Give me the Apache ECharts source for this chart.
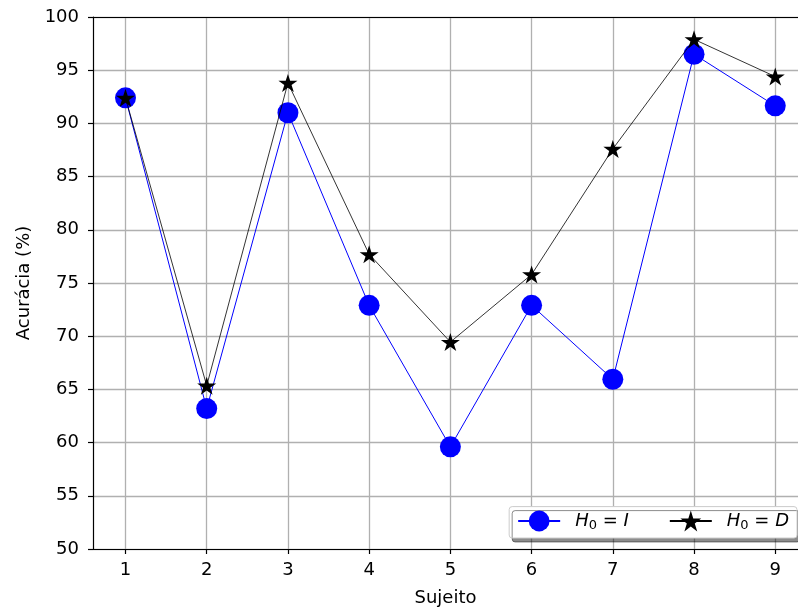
<!DOCTYPE html>
<html><head><meta charset="utf-8">
<script src="https://cdn.jsdelivr.net/npm/echarts@6/dist/echarts.min.js"></script>
<style>html,body{margin:0;padding:0;background:#fff}#c{width:798px;height:616px}</style>
</head><body><div id="c"></div>
<script>
var subjects = [1, 2, 3, 4, 5, 6, 7, 8, 9];
var accI = [92.4, 63.2, 91.0, 72.9, 59.6, 72.9, 65.95, 96.5, 91.65];
var accD = [92.4, 65.35, 93.8, 77.7, 69.45, 75.8, 87.6, 97.9, 94.4];
var yTicks = [50, 55, 60, 65, 70, 75, 80, 85, 90, 95, 100];

var star = 'path://M0,-100 L22.45,-30.9 L95.1,-30.9 L36.3,11.8 L58.8,80.9 L0,38.2 L-58.8,80.9 L-36.3,11.8 L-95.1,-30.9 L-22.45,-30.9 Z';
var font = 'DejaVu Sans';
var fs = 18;
var chart = echarts.init(document.getElementById('c'), null, {renderer: 'canvas'});
var rich = {
  i: {fontFamily: font, fontStyle: 'italic', fontSize: fs, color: '#000', lineHeight: 26, verticalAlign: 'middle'},
  n: {fontFamily: font, fontSize: fs, color: '#000', lineHeight: 26, verticalAlign: 'middle'},
  s: {fontFamily: font, fontSize: 13, color: '#000', lineHeight: 26, verticalAlign: 'bottom', padding: [0, 0, 2, 0]}
};
chart.setOption({
  animation: false,
  textStyle: {fontFamily: font},
  grid: {left: 93, right: 0, top: 17, bottom: 67, containLabel: false},
  xAxis: [{
    type: 'value', min: 0.6, max: 9.28, interval: 1,
    name: 'Sujeito', nameLocation: 'middle', nameGap: 40,
    nameTextStyle: {fontSize: fs, color: '#000', fontFamily: font},
    axisLine: {show: true, lineStyle: {color: '#000', width: 1.2}},
    axisTick: {show: true, length: 5, lineStyle: {color: '#000', width: 1.2}, customValues: subjects},
    axisLabel: {fontSize: fs, color: '#000', margin: 12, customValues: subjects, formatter: function (v) { return String(v); }},
    splitLine: {show: true, lineStyle: {color: '#b0b0b0', width: 1.3}, customValues: subjects}
  }, {
    type: 'value', position: 'top', min: 0.6, max: 9.28,
    axisLine: {show: true, lineStyle: {color: '#000', width: 1.2}},
    axisTick: {show: false}, axisLabel: {show: false}, splitLine: {show: false}
  }],
  yAxis: {
    type: 'value', min: 50, max: 100, interval: 5,
    name: 'Acurácia (%)', nameLocation: 'middle', nameGap: 57, nameRotate: 90,
    nameTextStyle: {fontSize: fs, color: '#000', fontFamily: font},
    axisLine: {show: true, lineStyle: {color: '#000', width: 1.2}},
    axisTick: {show: true, length: 5, lineStyle: {color: '#000', width: 1.2}},
    axisLabel: {fontSize: fs, color: '#000', margin: 14, formatter: function (v) { return yTicks.indexOf(v) >= 0 ? String(v) : ''; }},
    splitLine: {show: true, lineStyle: {color: '#b0b0b0', width: 1.3}}
  },
  legend: {
    right: 1, bottom: 78,
    itemWidth: 42, itemHeight: 26, itemGap: 40,
    padding: [4, 8, 4, 8],
    backgroundColor: '#fff',
    borderColor: '#cccccc', borderWidth: 1, borderRadius: 3,
    shadowColor: 'rgba(0,0,0,0.45)', shadowOffsetX: 3, shadowOffsetY: 4, shadowBlur: 0,
    data: ['I', 'D'],
    formatter: function (name) { return '{i|H}{s|0}{n| = }{i|' + name + '}'; },
    textStyle: {rich: rich, padding: [0, 0, 0, 10]}
  },
  series: [
    {
      name: 'I', type: 'line',
      data: subjects.map(function (s, k) { return [s, accI[k]]; }),
      symbol: 'circle', symbolSize: 21,
      itemStyle: {color: '#0000ff'},
      lineStyle: {color: '#0000ff', width: 1},
      z: 2
    },
    {
      name: 'D', type: 'line',
      data: subjects.map(function (s, k) { return [s, accD[k]]; }),
      symbol: star, symbolSize: 19, symbolKeepAspect: true,
      itemStyle: {color: '#000000'},
      lineStyle: {color: '#000000', width: 0.8},
      z: 3
    }
  ]
});
</script></body></html>
